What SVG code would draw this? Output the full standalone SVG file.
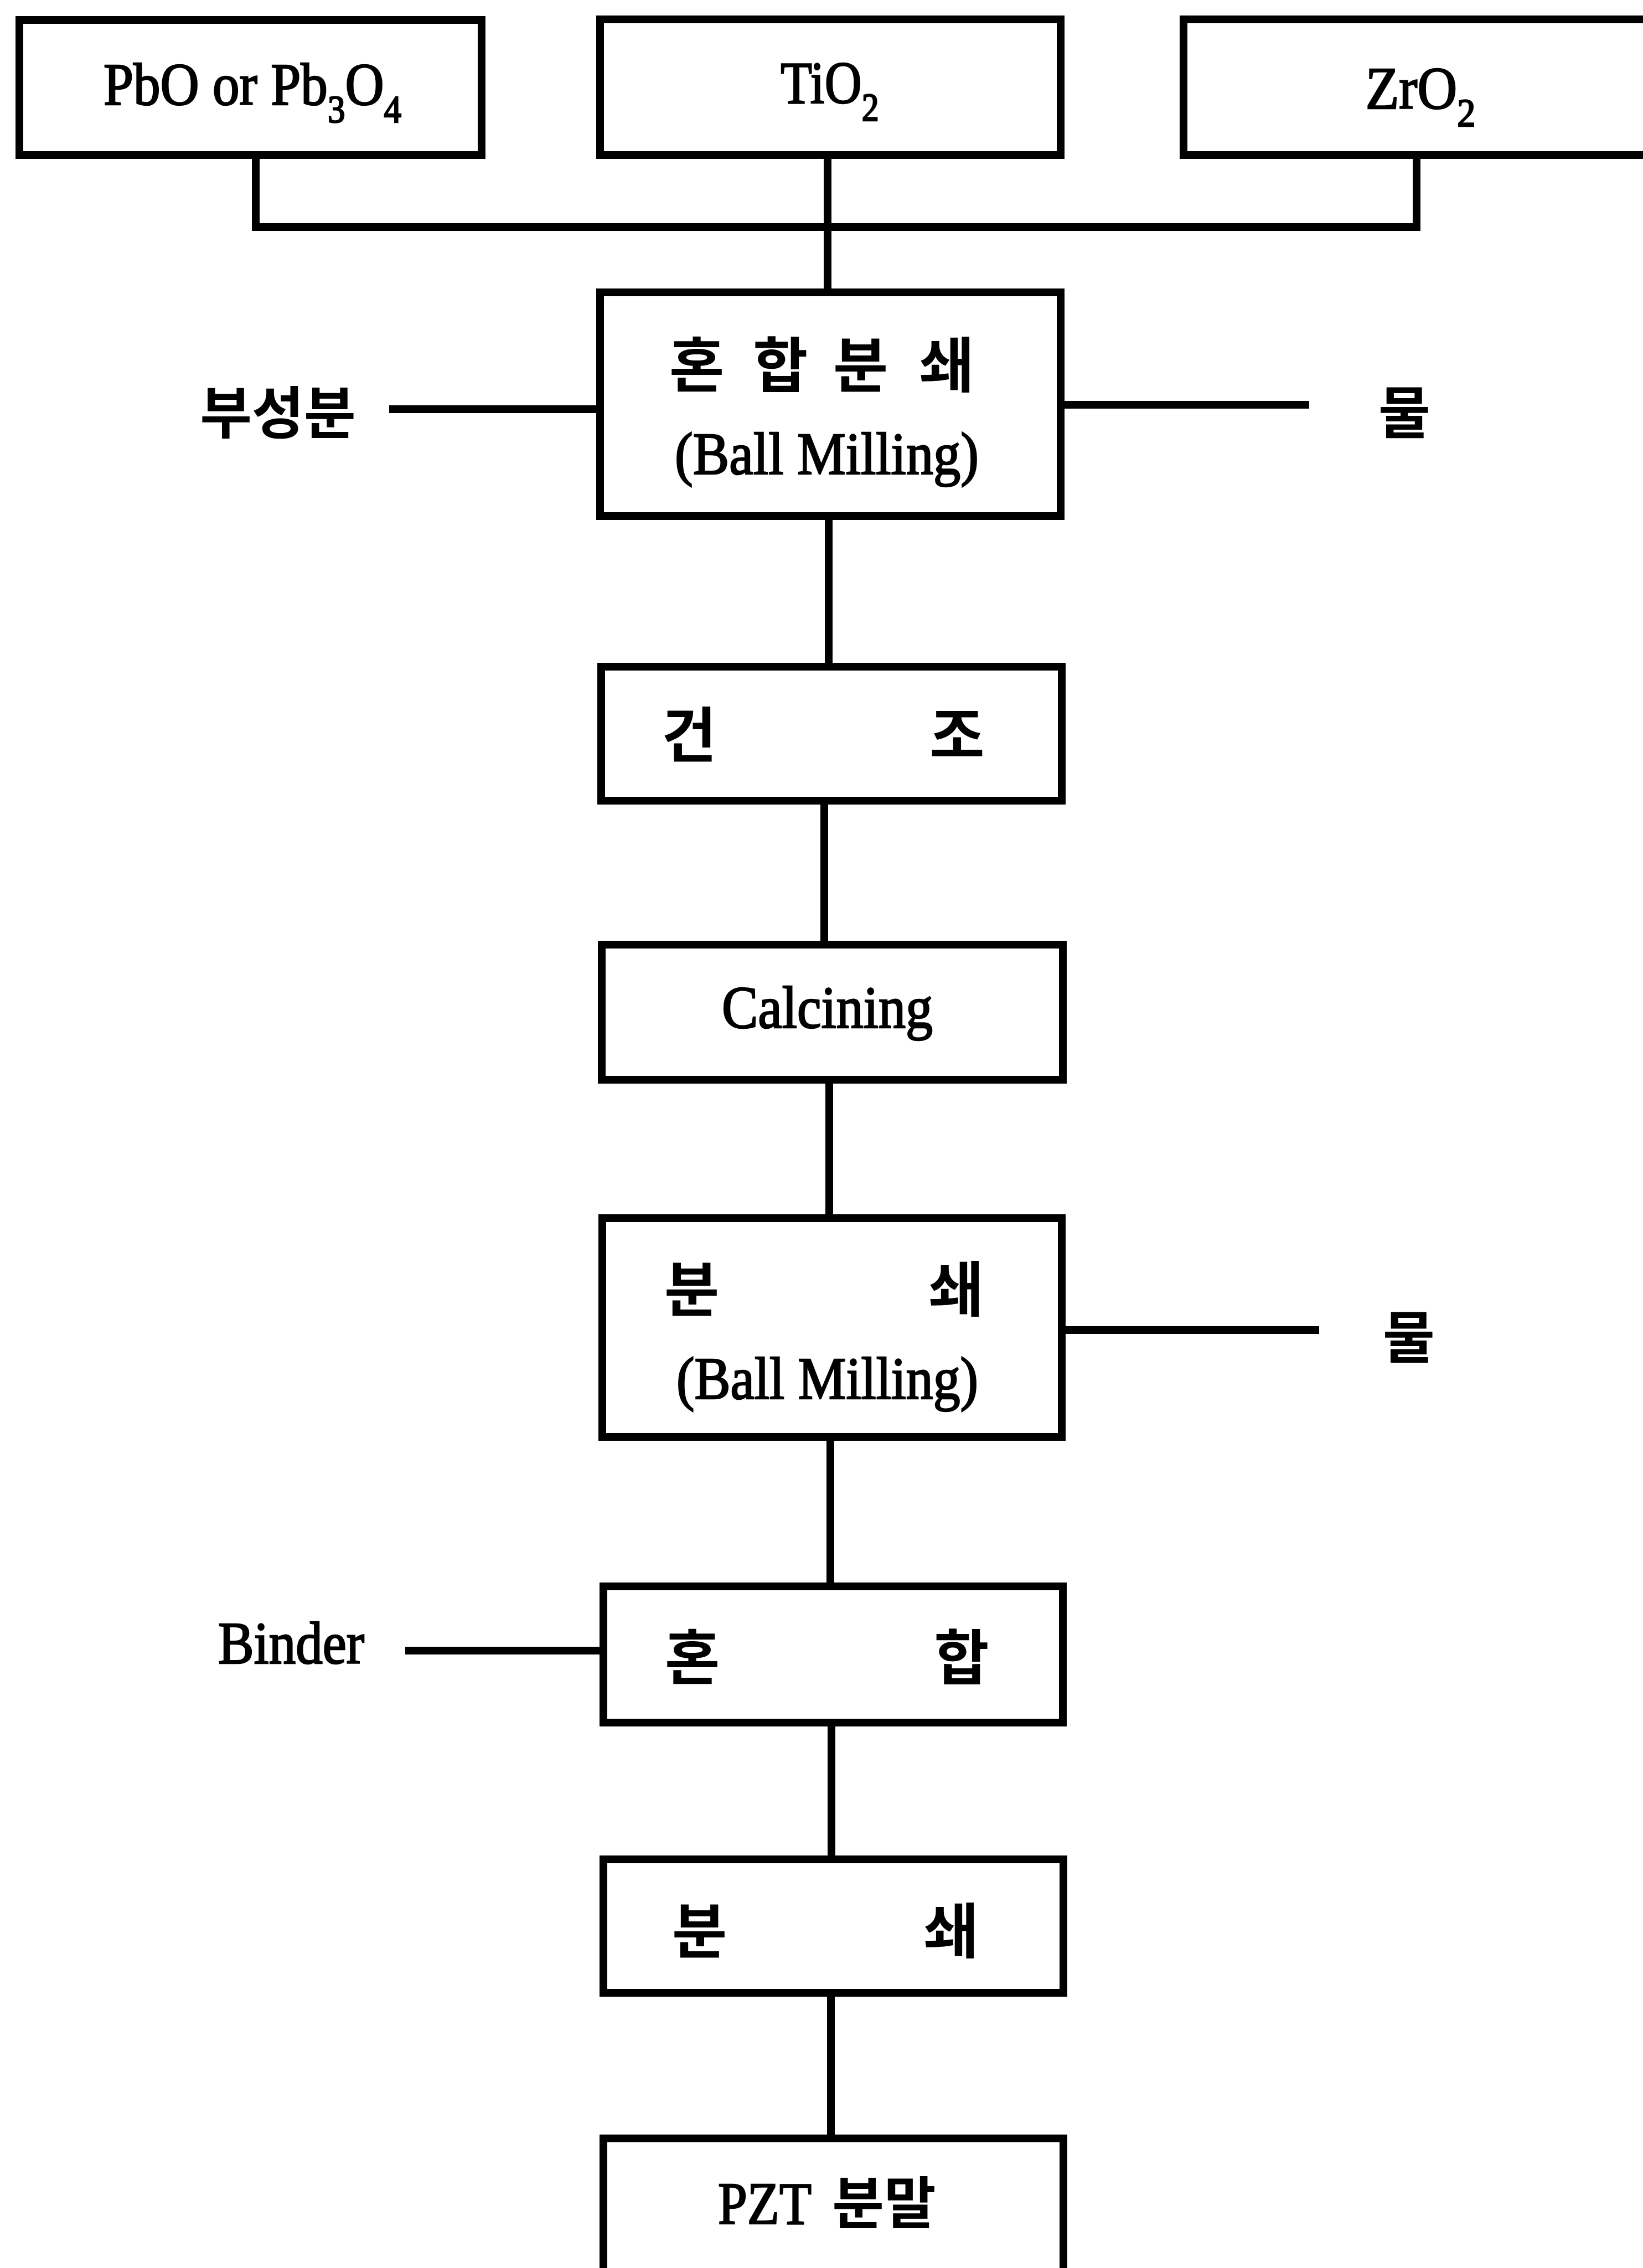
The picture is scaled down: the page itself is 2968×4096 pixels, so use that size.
<svg xmlns="http://www.w3.org/2000/svg" width="2968" height="4096" viewBox="0 0 2968 4096">
  <style>
    .box { fill: #fff; stroke: #000; stroke-width: 14; }
    .ln { fill: none; stroke: #000; stroke-width: 14; stroke-linejoin: miter; }
    .lat { font-family: "Liberation Serif", "Times New Roman", serif; font-size: 108px; fill: #000; stroke: #000; stroke-width: 2.6; }
    .ko { font-family: "Noto Sans CJK KR", "Noto Sans", sans-serif; font-size: 108px; font-weight: 700; fill: #000; text-anchor: middle; }
    .ko2 { font-family: "Noto Sans CJK KR", "Noto Sans", sans-serif; font-size: 102px; font-weight: 700; fill: #000; text-anchor: middle; }
  </style>
  <rect x="0" y="0" width="2968" height="4096" fill="#fff"/>

  <g id="connectors">
    <path class="ln" d="M462 280 V410 H2559 V280"/>
    <path class="ln" d="M1495 280 V528"/>
    <path class="ln" d="M703 739 H1084"/>
    <path class="ln" d="M1916 731 H2365"/>
    <path class="ln" d="M1497 932 V1204"/>
    <path class="ln" d="M1489 1446 V1706"/>
    <path class="ln" d="M1498 1950 V2200"/>
    <path class="ln" d="M1918 2402 H2383"/>
    <path class="ln" d="M1500 2595 V2865"/>
    <path class="ln" d="M732 2981 H1090"/>
    <path class="ln" d="M1502 3111 V3358"/>
    <path class="ln" d="M1501 3599 V3862"/>
  </g>

  <g id="node-pbo">
    <rect class="box" x="35" y="36" width="835" height="244"/>
    <text class="lat" transform="translate(456,189) scale(0.9,1)" text-anchor="middle">PbO or Pb<tspan font-size="70" dy="32">3</tspan><tspan dy="-32">O</tspan><tspan font-size="70" dy="32">4</tspan></text>
  </g>

  <g id="node-tio2">
    <rect class="box" x="1084" y="35" width="832" height="245"/>
    <text class="lat" transform="translate(1499,186) scale(0.86,1)" text-anchor="middle">TiO<tspan font-size="72" dy="32">2</tspan></text>
  </g>

  <g id="node-zro2">
    <rect class="box" x="2138" y="35" width="870" height="245"/>
    <text class="lat" transform="translate(2566,196) scale(0.92,1)" text-anchor="middle">ZrO<tspan font-size="72" dy="32">2</tspan></text>
  </g>

  <g id="node-mix-mill">
    <rect class="box" x="1084" y="528" width="832" height="404"/>
    <text class="ko" y="699"><tspan x="1271">혼</tspan> <tspan x="1422">합</tspan> <tspan x="1567">분</tspan> <tspan x="1710">쇄</tspan></text>
    <text class="lat" x="1219" y="856" textLength="549" lengthAdjust="spacingAndGlyphs">(Ball Milling)</text>
  </g>

  <g id="label-subcomponent">
    <text class="ko2" x="502" y="783">부성분</text>
  </g>

  <g id="label-water-1">
    <text class="ko2" x="2537" y="783">물</text>
  </g>

  <g id="node-dry">
    <rect class="box" x="1086" y="1204" width="832" height="242"/>
    <text class="ko" y="1367"><tspan x="1257">건</tspan> <tspan x="1729">조</tspan></text>
  </g>

  <g id="node-calcining">
    <rect class="box" x="1087" y="1706" width="833" height="244"/>
    <text class="lat" x="1304" y="1856" textLength="381" lengthAdjust="spacingAndGlyphs">Calcining</text>
  </g>

  <g id="node-mill">
    <rect class="box" x="1088" y="2200" width="830" height="395"/>
    <text class="ko" y="2368"><tspan x="1262">분</tspan> <tspan x="1727">쇄</tspan></text>
    <text class="lat" x="1222" y="2526" textLength="545" lengthAdjust="spacingAndGlyphs">(Ball Milling)</text>
  </g>

  <g id="label-water-2">
    <text class="ko2" x="2545" y="2453">물</text>
  </g>

  <g id="label-binder">
    <text class="lat" x="394" y="3004" textLength="264" lengthAdjust="spacingAndGlyphs">Binder</text>
  </g>

  <g id="node-mix">
    <rect class="box" x="1090" y="2865" width="830" height="246"/>
    <text class="ko" y="3033"><tspan x="1263">혼</tspan> <tspan x="1737">합</tspan></text>
  </g>

  <g id="node-crush">
    <rect class="box" x="1090" y="3358" width="831" height="241"/>
    <text class="ko" y="3527"><tspan x="1276">분</tspan> <tspan x="1718">쇄</tspan></text>
  </g>

  <g id="node-pzt">
    <rect class="box" x="1090" y="3862" width="831" height="280"/>
    <text class="lat" x="1297" y="4016" textLength="169" lengthAdjust="spacingAndGlyphs">PZT</text>
    <text class="ko2" x="1597" y="4016">분말</text>
  </g>
</svg>
